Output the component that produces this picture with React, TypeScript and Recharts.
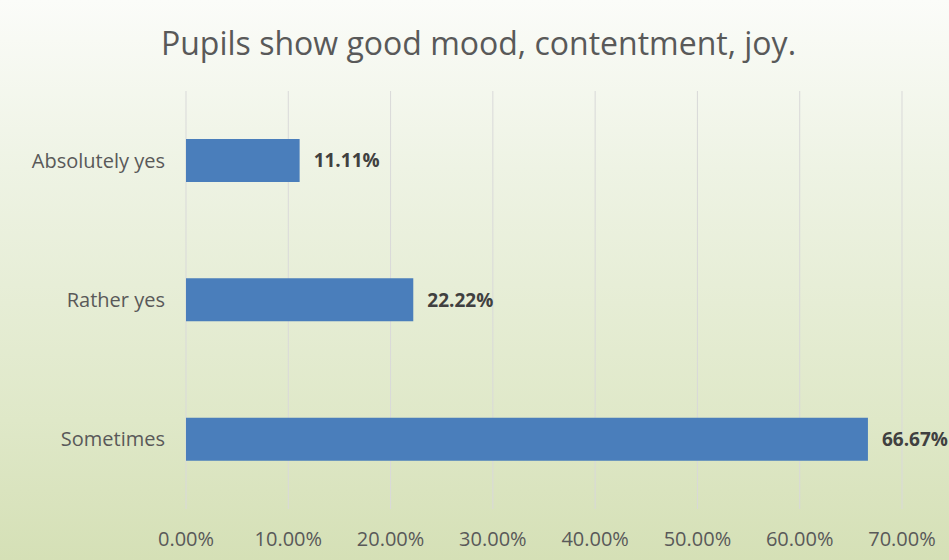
import { BarChart, Bar, XAxis, YAxis, CartesianGrid, LabelList } from 'recharts';

const CATEGORIES = ['Absolutely yes', 'Rather yes', 'Sometimes'];
const SHARES = [0.1111, 0.2222, 0.6667];
const X_TICKS = [0, 0.1, 0.2, 0.3, 0.4, 0.5, 0.6, 0.7];

const FONT = '"Open Sans", "Noto Sans", sans-serif';

const pct = (v: number) => `${(v * 100).toFixed(2)}%`;

export default function App() {
  const data = CATEGORIES.map((name, i) => ({ name, value: SHARES[i] }));

  return (
    <div
      style={{
        position: 'absolute',
        left: 0,
        top: 0,
        width: 949,
        height: 560,
        background: 'linear-gradient(180deg, #fbfcf9 0%, #eef3e4 30%, #dfe8c8 75%, #d5e0b6 100%)',
        fontFamily: FONT,
      }}
    >
      <div
        style={{
          position: 'absolute',
          top: 21,
          left: 4,
          width: 949,
          textAlign: 'center',
          fontSize: 32,
          lineHeight: '44px',
          color: '#595959',
        }}
      >
        Pupils show good mood, contentment, joy.
      </div>
      <BarChart
        width={949}
        height={560}
        data={data}
        layout="vertical"
        margin={{ top: 91, right: 47, bottom: 0, left: 0 }}
        barCategoryGap={48}
      >
        <CartesianGrid horizontal={false} stroke="#d9d9d9" />
        <XAxis
          type="number"
          domain={[0, 0.7]}
          ticks={X_TICKS}
          tickFormatter={pct}
          axisLine={false}
          tickLine={false}
          height={51}
          tickMargin={17}
          tick={{ fill: '#595959', fontSize: 20, fontFamily: FONT }}
        />
        <YAxis
          type="category"
          dataKey="name"
          width={186}
          axisLine={false}
          tickLine={false}
          tickMargin={15}
          tick={{ fill: '#595959', fontSize: 20, fontFamily: FONT }}
        />
        <Bar dataKey="value" fill="#4a7ebb" isAnimationActive={false}>
          <LabelList
            dataKey="value"
            position="right"
            offset={14}
            formatter={(v: number) => pct(v)}
            style={{ fill: '#404040', fontSize: 19, fontWeight: 'bold', fontFamily: FONT }}
          />
        </Bar>
      </BarChart>
    </div>
  );
}
